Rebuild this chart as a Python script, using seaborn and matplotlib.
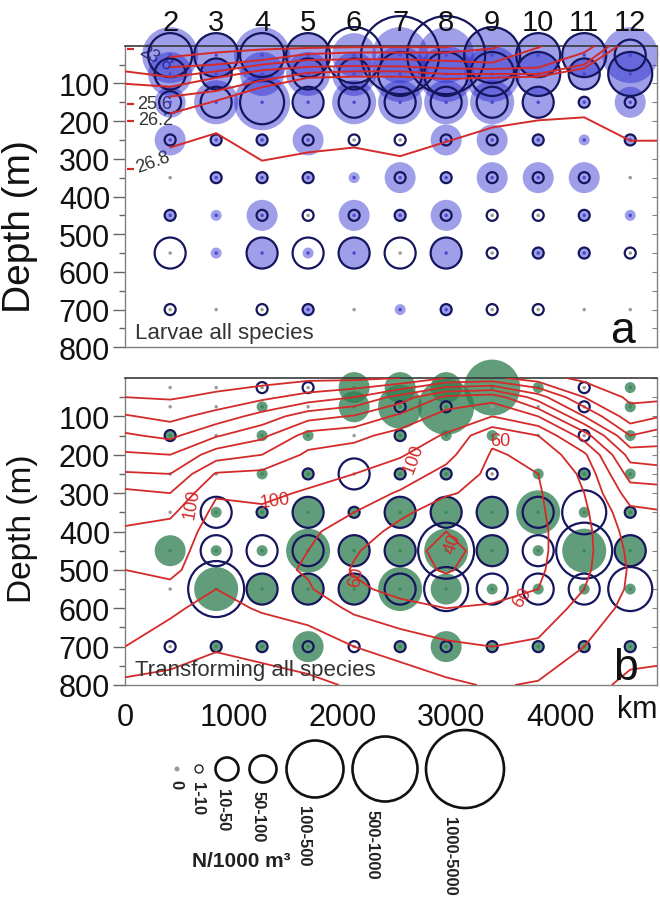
import numpy as np
import pandas as pd
import matplotlib
matplotlib.use("Agg")
import matplotlib.pyplot as plt
import matplotlib.transforms as mtransforms
import seaborn as sns

# ---------------- data ----------------
STATIONS = [2, 3, 4, 5, 6, 7, 8, 9, 10, 11, 12]
STATION_KM = [415, 838, 1260, 1683, 2106, 2529, 2952, 3375, 3798, 4221, 4644]
SAMPLE_DEPTHS = [25, 75, 150, 250, 350, 450, 550, 700]
CLASS_LABELS = ["0", "1-10", "10-50", "50-100", "100-500", "500-1000", "1000-5000"]

# abundance class (index into CLASS_LABELS) per station, per sample depth
LARVAE_RING = [
    [4, 3, 2, 1, 0, 1, 3, 1],
    [4, 3, 3, 1, 1, 0, 0, 0],
    [4, 0, 4, 1, 1, 1, 3, 1],
    [4, 3, 3, 1, 1, 1, 3, 1],
    [5, 3, 3, 1, 0, 1, 3, 0],
    [6, 4, 3, 1, 1, 1, 3, 0],
    [6, 4, 3, 1, 1, 1, 3, 1],
    [5, 4, 3, 1, 1, 1, 1, 1],
    [4, 4, 3, 1, 1, 1, 1, 1],
    [4, 3, 1, 0, 1, 1, 1, 0],
    [3, 4, 1, 1, 0, 0, 1, 0],
]
LARVAE_FILL = [
    [5, 4, 3, 3, 0, 1, 0, 0],
    [4, 3, 4, 1, 1, 1, 1, 0],
    [5, 4, 5, 1, 1, 3, 3, 0],
    [4, 4, 3, 3, 1, 0, 1, 1],
    [4, 4, 4, 0, 1, 3, 3, 0],
    [5, 5, 4, 0, 3, 1, 0, 1],
    [5, 5, 4, 3, 1, 3, 3, 1],
    [5, 5, 4, 3, 3, 0, 0, 0],
    [4, 4, 3, 1, 3, 0, 1, 0],
    [4, 3, 1, 1, 3, 1, 1, 0],
    [5, 4, 3, 1, 0, 1, 0, 0],
]
TRANS_RING = [
    [0, 0, 1, 0, 0, 0, 0, 1],
    [0, 0, 0, 0, 3, 3, 5, 1],
    [1, 0, 0, 0, 1, 3, 3, 1],
    [1, 0, 0, 1, 3, 3, 3, 1],
    [0, 0, 0, 3, 1, 3, 3, 1],
    [0, 1, 1, 1, 3, 3, 3, 1],
    [0, 1, 0, 1, 3, 5, 4, 1],
    [0, 0, 0, 1, 3, 3, 3, 1],
    [0, 0, 0, 0, 3, 3, 3, 1],
    [1, 1, 1, 1, 4, 5, 3, 1],
    [0, 0, 0, 0, 1, 3, 4, 1],
]
TRANS_FILL = [
    [0, 0, 1, 0, 0, 3, 0, 0],
    [0, 0, 0, 0, 1, 1, 4, 1],
    [0, 1, 1, 1, 1, 1, 3, 1],
    [0, 0, 1, 1, 3, 4, 3, 3],
    [3, 3, 0, 0, 1, 3, 3, 0],
    [3, 4, 1, 1, 3, 3, 4, 1],
    [3, 5, 1, 1, 3, 4, 3, 3],
    [5, 0, 1, 0, 3, 3, 1, 1],
    [1, 0, 0, 1, 4, 1, 1, 1],
    [0, 0, 0, 1, 1, 4, 1, 1],
    [1, 1, 1, 1, 1, 3, 1, 1],
]

# isopycnal depths (m) along the section (panel a)
ISO_X_KM = [0, 415, 838, 1260, 1683, 2106, 2529, 2952, 3375, 3798, 4221, 4644, 4890]
nan = np.nan
ISO_DEPTHS = [
    [nan, 30, 18, 10, 6, 4, 4, 4, -20, nan, nan, nan, nan],
    [nan, 57, 50, 38, 22, 18, 18, 18, 8, -40, nan, nan, nan],
    [68, 83, 68, 50, 38, 36, 36, 40, 45, 5, -50, nan, nan],
    [101, 109, 85, 65, 56, 54, 55, 60, 62, 58, 18, -60, nan],
    [nan, 135, 120, 92, 72, 68, 68, 75, 75, 75, 50, -40, nan],
    [nan, 180, 146, 110, 85, 82, 82, 88, 85, 82, 60, -20, nan],
    [nan, 270, 232, 305, 283, 270, 293, 255, 217, 198, 190, 252, 252],
]
ISO_LABELS = [("23.8", 276, 32, -30), ("25.6", 276, 152, 0),
              ("26.2", 280, 196, 0), ("26.8", 258, 309, 20)]
ISO_TICK_DEPTHS = [10, 154, 200, 328]

# oxygen field (panel b): columns = positions, rows = depths
OXY_X_KM = [0, 415, 838, 1260, 1683, 2106, 2529, 2952, 3375, 3798, 4221, 4644, 4890]
OXY_DEPTHS = [0, 50, 100, 150, 200, 250, 300, 350, 400, 450, 500, 550, 600, 700, 800]
OXY_COLUMNS = [
    [250, 240, 218, 197, 177, 158, 135, 125, 118, 112, 100, 94, 90, 100, 125],
    [250, 242, 226, 205, 180, 160, 140, 124, 112, 106, 102, 98, 97, 108, 128],
    [250, 236, 212, 182, 150, 118, 102, 95, 92, 92, 94, 100, 106, 118, 132],
    [250, 225, 192, 165, 140, 115, 104, 97, 92, 88, 86, 90, 98, 114, 128],
    [245, 212, 168, 132, 116, 106, 98, 90, 84, 80, 78, 82, 92, 110, 124],
    [245, 200, 158, 126, 110, 100, 90, 80, 70, 62, 58, 64, 76, 100, 118],
    [240, 172, 135, 112, 102, 90, 78, 64, 54, 48, 48, 54, 66, 92, 112],
    [220, 135, 112, 98, 86, 74, 62, 50, 40, 34, 38, 48, 60, 84, 104],
    [215, 128, 100, 64, 58, 55, 54, 52, 50, 48, 50, 54, 62, 80, 98],
    [232, 170, 120, 80, 64, 60, 58, 57, 56, 56, 57, 60, 66, 84, 102],
    [245, 220, 180, 130, 96, 84, 80, 76, 74, 74, 76, 80, 88, 100, 114],
    [250, 244, 232, 200, 168, 148, 130, 115, 108, 104, 102, 103, 106, 114, 124],
    [250, 245, 222, 190, 172, 150, 132, 118, 110, 106, 104, 104, 108, 116, 124],
]
OXY_LEVELS = [40, 60, 80, 100, 120, 140, 160, 180, 200, 220, 240]
OXY_LABELS = [("100", 616, 326, 80), ("100", 1380, 318, 8), ("100", 2650, 209, 70),
              ("60", 3450, 162, 0), ("40", 3015, 430, 70), ("60", 3650, 570, 55),
              ("60", 2130, 516, 80)]

# ---------------- style ----------------
DPI = 100
PLOT_D_PX = {0: 4, 1: 11, 2: 22, 3: 31, 4: 44, 5: 56, 6: 78}
LEG_D_PX = [5, 8, 23, 27, 57, 65, 78]
LEG_X_PX = [177, 199, 227, 263, 315, 385, 465]
LEG_Y_PX = 770


def area(d_px):
    return (d_px * 72.0 / DPI) ** 2


PLOT_SIZES = {k: area(v) for k, v in PLOT_D_PX.items()}
NAVY = "#16165e"
RED = "#d42a2a"
BLUE_FILL = "#2828d0"
GREEN_FILL = "#2e7d4f"
GREY = "#9a9a9a"

sns.set_style("white")
plt.rcParams["font.family"] = ["Liberation Sans", "DejaVu Sans"]

fig = plt.figure(figsize=(6.6, 9.03), dpi=DPI)
W, H = 660.0, 903.0
axA = fig.add_axes([125 / W, (H - 348.3) / H, 532 / W, 301.6 / H])
axB = fig.add_axes([125 / W, (H - 686) / H, 532 / W, 307 / H])


def long_df(ring, fill):
    rows = []
    for i, km in enumerate(STATION_KM):
        for j, d in enumerate(SAMPLE_DEPTHS):
            rows.append(dict(km=km, depth=d, ring=ring[i][j], fill=fill[i][j]))
    df = pd.DataFrame(rows)
    df["has_fill"] = np.where(df["fill"] > 0, "y", "n")
    return df


def draw_samples(ax, df, fill_color, fill_alpha, dot_color):
    f = df[df["fill"] > 0]
    sns.scatterplot(data=f, x="km", y="depth", size="fill", sizes=PLOT_SIZES,
                    color=fill_color, alpha=fill_alpha, edgecolor="none",
                    linewidth=0, legend=False, ax=ax, zorder=2, clip_on=False)
    r = df[df["ring"] > 0]
    sns.scatterplot(data=r, x="km", y="depth", size="ring", sizes=PLOT_SIZES,
                    color=NAVY, facecolor="none", edgecolor=NAVY,
                    linewidth=1.6, legend=False, ax=ax, zorder=3, clip_on=False)
    sns.scatterplot(data=df, x="km", y="depth", hue="has_fill",
                    palette={"y": dot_color, "n": GREY}, s=area(3.5),
                    edgecolor="none", linewidth=0, legend=False, ax=ax,
                    zorder=4, clip_on=False)


dfA = long_df(LARVAE_RING, LARVAE_FILL)
dfB = long_df(TRANS_RING, TRANS_FILL)

draw_samples(axA, dfA, BLUE_FILL, 0.45, "#4a4ad0")
draw_samples(axB, dfB, GREEN_FILL, 0.75, "#3d8a5c")

# isopycnals (panel a)
for depths in ISO_DEPTHS:
    line = pd.DataFrame({"km": ISO_X_KM, "depth": depths}).dropna()
    sns.lineplot(data=line, x="km", y="depth", sort=False, estimator=None,
                 color=RED, linewidth=1.4, ax=axA, zorder=5)
for txt, x, y, rot in ISO_LABELS:
    axA.text(x, y, txt, fontsize=13, color="#333333", rotation=rot,
             ha="center", va="center", zorder=1.5)
sns.scatterplot(x=[45] * len(ISO_TICK_DEPTHS), y=ISO_TICK_DEPTHS, marker="_",
                s=area(7), color=RED, linewidth=1.6, ax=axA, zorder=5,
                legend=False, clip_on=False)

# oxygen contours (panel b)
XX, ZZ = np.meshgrid(OXY_X_KM, OXY_DEPTHS)
VV = np.array(OXY_COLUMNS, dtype=float).T
axB.contour(XX, ZZ, VV, levels=OXY_LEVELS, colors=RED, linewidths=1.3, zorder=5)
for txt, x, y, rot in OXY_LABELS:
    axB.text(x, y, txt, fontsize=13, color=RED, rotation=rot,
             ha="center", va="center", zorder=6,
             bbox=dict(boxstyle="square,pad=0.05", fc="white", ec="none", alpha=0.0))

# axes styling
for ax, ylab_fs, ylab_y in ((axA, 28, 0.405), (axB, 24, 0.511)):
    ax.set_xlim(0, 4890)
    ax.set_ylim(800, 0)
    ax.set_yticks(range(100, 801, 100))
    ax.set_yticks(range(50, 800, 100), minor=True)
    ax.set_xticks([0, 1000, 2000, 3000, 4000])
    ax.tick_params(axis="y", which="major", direction="out", length=8.6, width=1,
                   color="#666666", labelsize=22, labelcolor="#111111", pad=2.2,
                   left=True)
    ax.tick_params(axis="y", which="minor", direction="out", length=4.5, width=1,
                   color="#666666", left=True)
    ax.set_ylabel("Depth (m)", fontsize=ylab_fs, color="#111111")
    ax.yaxis.set_label_coords(-0.163, ylab_y)
    ax.set_xlabel("")
    for side in ("left", "bottom", "right"):
        ax.spines[side].set_color("#808080")
        ax.spines[side].set_linewidth(1.0)
    ax.spines["top"].set_color("#3a3a3a")
    ax.spines["top"].set_linewidth(1.2)
    sec = ax.secondary_yaxis("right")
    sec.set_yticks(range(0, 801, 50))
    sec.tick_params(direction="in", length=3.5, color="#808080", labelright=False)
    sec.spines["right"].set_visible(False)

axA.tick_params(axis="x", direction="out", length=8.6, width=1, color="#666666",
                labelbottom=False)
axB.tick_params(axis="x", direction="out", length=6.5, width=1, color="#666666",
                labelsize=22, labelcolor="#111111", pad=5.5)
axB.text(637, 710, "km", transform=None, fontsize=22, color="#111111")
kmtxt = axB.texts[-1]
kmtxt.set_transform(mtransforms.IdentityTransform())
kmtxt.set_position((637, H - 710))
kmtxt.set_ha("center")
kmtxt.set_va("center")

# station numbers
trA = mtransforms.blended_transform_factory(axA.transData, axA.transAxes)
for st, km in zip(STATIONS, STATION_KM):
    axA.text(km, 1.079, str(st), transform=trA, ha="center", va="center",
             fontsize=21, color="#111111", zorder=6)

axA.text(0.019, 0.05, "Larvae all species", transform=axA.transAxes,
         fontsize=16, color="#333333", ha="left", va="center", zorder=6)
axB.text(0.019, 0.052, "Transforming all species", transform=axB.transAxes,
         fontsize=16, color="#333333", ha="left", va="center", zorder=6)
axA.text(0.936, 0.017, "a", transform=axA.transAxes, fontsize=32,
         ha="center", va="baseline", color="#111111", zorder=6)
axB.text(0.94, 0.02, "b", transform=axB.transAxes, fontsize=32,
         ha="center", va="baseline", color="#111111", zorder=6)

# size legend
axL = fig.add_axes([0, 0, 1, 1], facecolor="none")
axL.set_xlim(0, W)
axL.set_ylim(H, 0)
axL.axis("off")
leg = pd.DataFrame({"x": LEG_X_PX, "y": [LEG_Y_PX] * len(LEG_X_PX),
                    "cls": list(range(len(CLASS_LABELS)))})
leg_sizes = {i: area(d) for i, d in enumerate(LEG_D_PX)}
sns.scatterplot(data=leg[leg["cls"] == 0], x="x", y="y", s=area(LEG_D_PX[0]),
                color=GREY, edgecolor="none", legend=False, ax=axL)
sns.scatterplot(data=leg[leg["cls"] == 1], x="x", y="y", size="cls",
                sizes=leg_sizes, color="#111111", facecolor="none",
                edgecolor="#222222", linewidth=1.0, legend=False, ax=axL)
sns.scatterplot(data=leg[leg["cls"] >= 2], x="x", y="y", size="cls",
                sizes=leg_sizes, color="#111111", facecolor="none",
                edgecolor="#111111", linewidth=1.9, legend=False, ax=axL)
for i, lab in enumerate(CLASS_LABELS):
    axL.text(LEG_X_PX[i] - 0.2 * LEG_D_PX[i], LEG_Y_PX + LEG_D_PX[i] / 2 + 8, lab,
             rotation=270, ha="center", va="top", fontsize=12,
             fontweight="bold", color="#222222")
axL.text(241, 862, "N/1000 m³", ha="center", va="center", fontsize=15,
         fontweight="bold", color="#222222")

fig.savefig("out.png", dpi=DPI)
